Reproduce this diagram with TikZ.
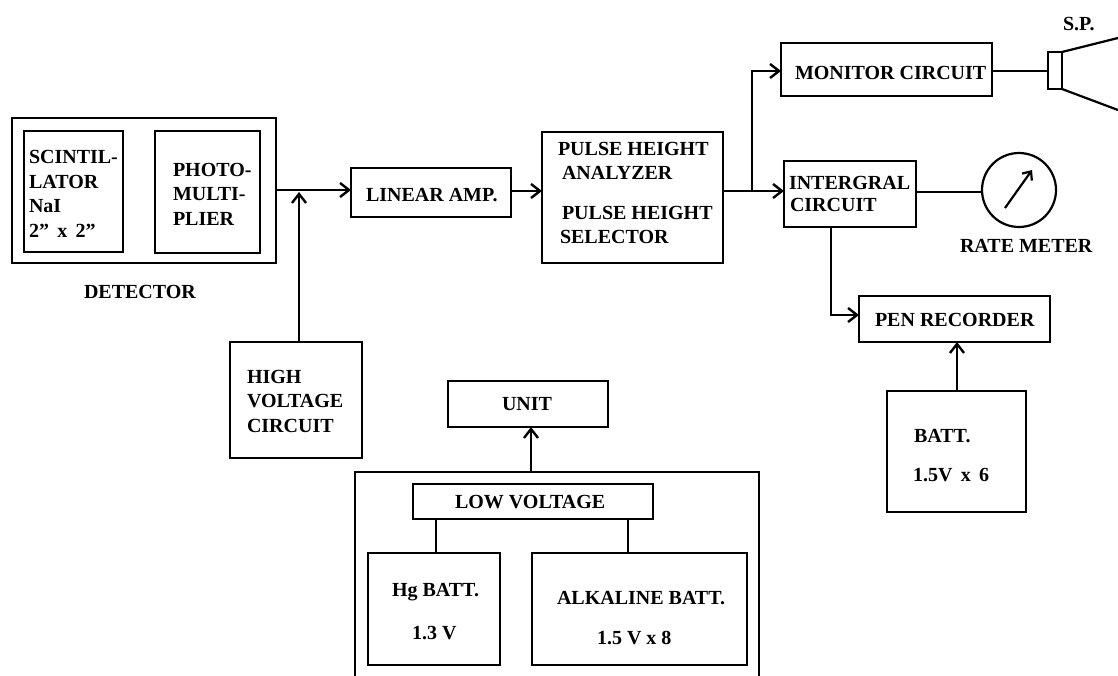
\documentclass[tikz,border=0pt]{standalone}
\usepackage{fontspec}
\setmainfont{Liberation Serif}
\usetikzlibrary{arrows.meta}
\newcommand{\bx}[5]{%
  \pgfmathsetmacro{\bxw}{#4-#2}\pgfmathsetmacro{\bxh}{#5-#3}%
  \pgfmathsetmacro{\bxx}{(#4+#2)/2}\pgfmathsetmacro{\bxy}{(#5+#3)/2}%
  \node[boxed,minimum width=\bxw pt,minimum height=\bxh pt] (#1) at (\bxx,\bxy) {};}
\tikzset{
  boxed/.style={draw,line width=2.2pt,inner sep=0pt,outer sep=0pt},
  lab/.style={font=\fontsize{20}{24.5}\selectfont\bfseries,anchor=west,align=left,inner sep=0pt,outer sep=0pt},
  con/.style={line width=2.2pt},
  arr/.style={con,-{Straight Barb[length=9pt,width=14pt,line width=2.4pt]}}
}
\begin{document}
\begin{tikzpicture}[x=1pt,y=-1pt]
\useasboundingbox (0,0) rectangle (1118,676);
\bx{det}{12}{118}{276}{263}
\bx{sci}{24}{131}{123}{252}
\bx{pho}{155}{131}{260}{253}
\bx{hv}{230}{342}{362}{458}
\bx{amp}{351}{168}{511}{217}
\bx{pha}{542}{132}{723}{263}
\bx{mon}{781}{43}{992}{96}
\bx{int}{784}{161}{916}{227}
\bx{pen}{859}{296}{1050}{342}
\bx{bat}{887}{391}{1026}{512}
\bx{unit}{448}{381}{608}{427}
\bx{lv}{413}{484}{653}{519}
\bx{hg}{368}{553}{500}{665}
\bx{alk}{532}{553}{747}{665}
\bx{spk}{1048}{52}{1062}{89}
\node[boxed,circle,minimum size=74pt] (met) at (1019,190) {};

\draw[con,line join=miter] (355,676) -- (355,472) coordinate (pwrl) -- (759,472) coordinate (pwrr) -- (759,676);

\node[lab] (tsci) at (29,194) {SCINTIL-\\LATOR\\NaI\\2" \,x\, 2"};
\node[lab] (tpho) at (173,194) {PHOTO-\\MULTI-\\PLIER};
\node[lab] (tdet) at (84,292) {DETECTOR};
\node[lab] (thv) at (247,401) {HIGH\\VOLTAGE\\CIRCUIT};
\node[lab] (tamp) at (366,195) {LINEAR AMP.};
\node[lab] (tpha1) at (558,149) {PULSE HEIGHT};
\node[lab] (tpha2) at (562,173) {ANALYZER};
\node[lab] (tphs1) at (562,213) {PULSE HEIGHT};
\node[lab] (tphs2) at (560,237) {SELECTOR};
\node[lab] (tmon) at (795,73) {MONITOR CIRCUIT};
\node[lab] (tint1) at (789,183) {INTERGRAL};
\node[lab] (tint2) at (790,205) {CIRCUIT};
\node[lab] (trate) at (960,246) {RATE METER};
\node[lab] (tsp) at (1063,24) {S.P.};
\node[lab] (tpen) at (875,320) {PEN RECORDER};
\node[lab] (tbat1) at (914,436) {BATT.};
\node[lab] (tbat2) at (913,475) {1.5V \,x\, 6};
\node[lab] (tunit) at (502,404) {UNIT};
\node[lab] (tlv) at (455,502) {LOW VOLTAGE};
\node[lab] (thg1) at (392,592) {Hg BATT.};
\node[lab] (thg2) at (412,633) {1.3 V};
\node[lab] (talk1) at (557,598) {ALKALINE BATT.};
\node[lab] (talk2) at (597,638) {1.5 V x 8};

\coordinate (a1) at (276,190);
\coordinate (a2) at (351,190);
\coordinate (a3) at (299,342);
\coordinate (a4) at (299,192);
\coordinate (l1) at (511,191);
\coordinate (l2) at (542,191);
\coordinate (o1) at (723,191);
\coordinate (o2) at (784,191);
\coordinate (b1) at (752,191);
\coordinate (b2) at (781,71);
\coordinate (p1) at (831,227);
\coordinate (p2) at (859,315);
\coordinate (m1) at (916,192);
\coordinate (m2) at (992,71);
\coordinate (u1) at (531,472);
\coordinate (v1) at (957,391);
\coordinate (v2) at (957,342);
\coordinate (c1) at (1118,38);
\coordinate (c2) at (1118,110);
\coordinate (n1) at (1005,208);
\coordinate (n2) at (1032,170);
\draw[arr] (a1) -- (a2);
\draw[arr] (a3) -- (a4);
\draw[arr] (l1) -- (l2);
\draw[arr] (o1) -- (o2);
\draw[arr] (b1) -- (b1 |- b2) -- (b2);
\draw[arr] (p1) -- (p1 |- p2) -- (p2);
\draw[con] (m1) -- (met.west |- m1);
\draw[con] (m2) -- (spk.west |- m2);
\draw[arr] (v1) -- (v2);
\draw[arr] (u1) -- (unit.south -| u1);
\coordinate (h1) at (436,519);
\coordinate (h2) at (628,519);
\draw[con] (h1) -- (hg.north -| h1);
\draw[con] (h2) -- (alk.north -| h2);
\draw[con] (spk.north east) -- (c1);
\draw[con] (spk.south east) -- (c2);
\draw[con,-{Straight Barb[length=7pt,width=12pt,line width=2.2pt]}] (n1) -- (n2);
\end{tikzpicture}
\end{document}
